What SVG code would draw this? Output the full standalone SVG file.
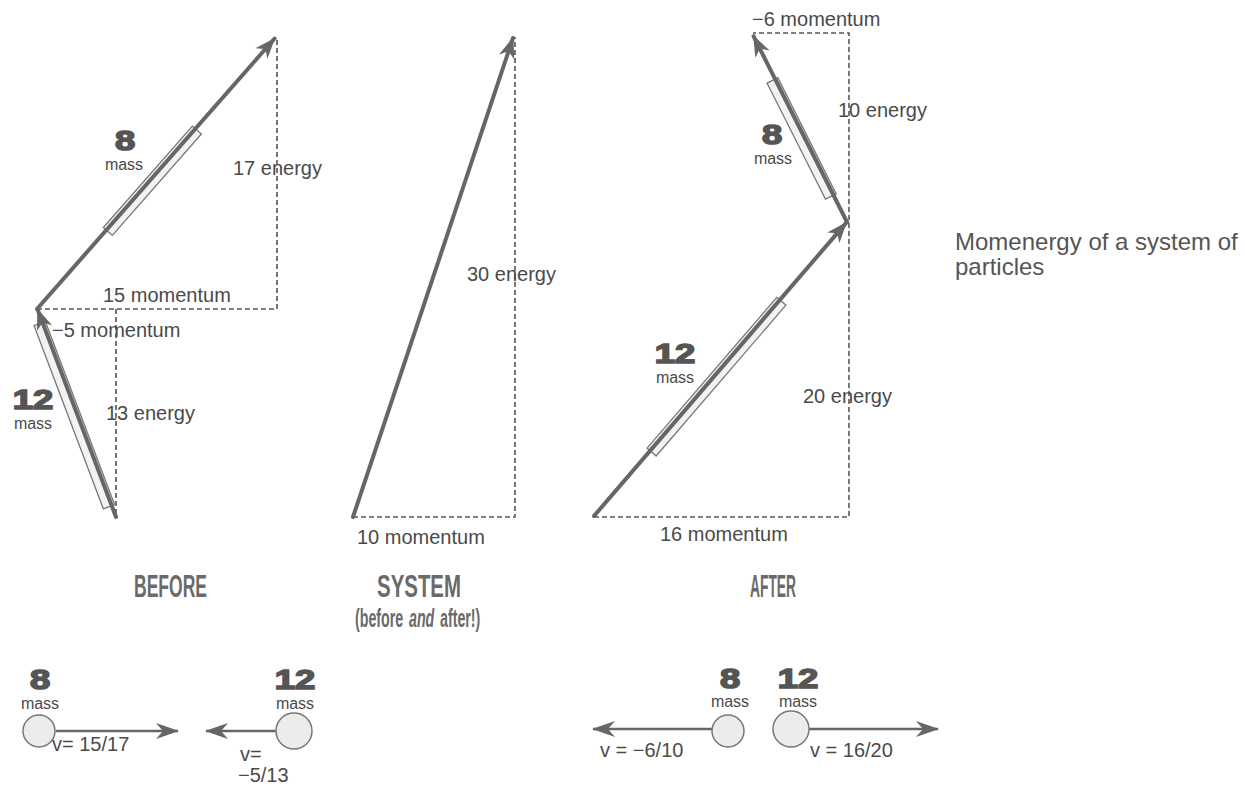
<svg xmlns="http://www.w3.org/2000/svg" width="1245" height="786" viewBox="0 0 1245 786">
<style>
.lbl{font-family:"Liberation Sans",Arial,sans-serif;font-size:20px;fill:#4a4a4a}
.num{font-family:"Liberation Sans",Arial,sans-serif;font-size:28px;font-weight:bold;fill:#555;stroke:#555;stroke-width:1.6;text-anchor:middle}
.mass{font-family:"Liberation Sans",Arial,sans-serif;font-size:16px;fill:#4a4a4a;text-anchor:middle}
.title{font-family:"Liberation Sans",Arial,sans-serif;font-size:32px;font-weight:bold;fill:#6a6a6a}
.sub{font-family:"Liberation Sans",Arial,sans-serif;font-size:25px;font-weight:bold;fill:#6a6a6a}
.cap{font-family:"Liberation Sans",Arial,sans-serif;font-size:24px;fill:#555}
.vec{stroke:#666;stroke-width:4;fill:none;stroke-linecap:round}
.small{stroke:#666;stroke-width:2.5;fill:none}
.dash{stroke:#555;stroke-width:1.6;fill:none;stroke-dasharray:5 3}
.bar{fill:#f2f2f2;stroke:#777;stroke-width:1.3}
.ball{fill:#ececec;stroke:#777;stroke-width:1.5}
</style>
<defs>
<marker id="head" viewBox="-22 -9 24 18" refX="0" refY="0" markerWidth="24" markerHeight="18" markerUnits="userSpaceOnUse" orient="auto">
<path d="M1,0 L-20,-8 L-14,0 L-20,8 Z" fill="#666"/>
</marker>
<marker id="headS" viewBox="-22 -9 24 18" refX="0" refY="0" markerWidth="24" markerHeight="18" markerUnits="userSpaceOnUse" orient="auto">
<path d="M1,0 L-22,-8 L-15,0 L-22,8 Z" fill="#666"/>
</marker>
</defs>

<g id="connectors">
<path class="dash" d="M37,309 H277 V37"/>
<path class="dash" d="M116,309 V517"/>
<path class="dash" d="M353,517 H515 V37"/>
<path class="dash" d="M594,517 H849 V33 H753"/>
</g>

<g id="before-12">
<g transform="translate(116,517) rotate(-110.7)">
<rect class="bar" x="12" y="-9" width="196" height="12"/>
<line class="vec" x1="0" y1="0" x2="222" y2="0" marker-end="url(#head)"/>
</g>
<text class="num" transform="translate(33,409) scale(1.3,1)">12</text>
<text class="mass" x="33" y="429">mass</text>
</g>

<g id="before-8">
<g transform="translate(37,309) rotate(-48.7)">
<rect class="bar" x="105" y="-4" width="135" height="12"/>
<line class="vec" x1="0" y1="0" x2="360" y2="0" marker-end="url(#head)"/>
</g>
<text class="num" transform="translate(125,150) scale(1.3,1)">8</text>
<text class="mass" x="124" y="170">mass</text>
</g>

<g id="before-labels">
<text class="lbl" x="233" y="175">17 energy</text>
<text class="lbl" x="103" y="302">15 momentum</text>
<text class="lbl" x="52" y="337">−5 momentum</text>
<text class="lbl" x="106" y="420">13 energy</text>
</g>

<g id="system">
<line class="vec" x1="353" y1="517" x2="513" y2="38" marker-end="url(#head)"/>
<text class="lbl" x="467" y="281">30 energy</text>
<text class="lbl" x="357" y="544">10 momentum</text>
</g>

<g id="after-12">
<g transform="translate(594,516) rotate(-49.3)">
<rect class="bar" x="86" y="-4" width="199" height="12"/>
<line class="vec" x1="0" y1="0" x2="387" y2="0" marker-end="url(#head)"/>
</g>
<text class="num" transform="translate(675,363) scale(1.3,1)">12</text>
<text class="mass" x="675" y="383">mass</text>
</g>

<g id="after-8">
<g transform="translate(847,222) rotate(-116.7)">
<rect class="bar" x="30" y="-9" width="130" height="12"/>
<line class="vec" x1="0" y1="0" x2="208" y2="0" marker-end="url(#head)"/>
</g>
<text class="num" transform="translate(772,144) scale(1.3,1)">8</text>
<text class="mass" x="773" y="164">mass</text>
</g>

<g id="after-labels">
<text class="lbl" x="752" y="26">−6 momentum</text>
<text class="lbl" x="838" y="117">10 energy</text>
<text class="lbl" x="803" y="403">20 energy</text>
<text class="lbl" x="660" y="541">16 momentum</text>
</g>

<g id="caption">
<text class="cap" x="955" y="250">Momenergy of a system of</text>
<text class="cap" x="955" y="275">particles</text>
</g>

<g id="titles">
<text class="title" x="134" y="597" textLength="73" lengthAdjust="spacingAndGlyphs">BEFORE</text>
<text class="title" x="377" y="597" textLength="84" lengthAdjust="spacingAndGlyphs">SYSTEM</text>
<text class="sub" transform="translate(355,627) scale(0.57,1)">(before</text>
<text class="sub" transform="translate(409,627) scale(0.57,1)" font-style="italic">and</text>
<text class="sub" transform="translate(440,627) scale(0.57,1)">after!)</text>
<text class="title" x="750" y="597" textLength="46" lengthAdjust="spacingAndGlyphs">AFTER</text>
</g>

<g id="before-particle-8">
<text class="num" transform="translate(40,689) scale(1.3,1)">8</text>
<text class="mass" x="40" y="709">mass</text>
<line class="small" x1="56" y1="731" x2="178" y2="731" marker-end="url(#headS)"/>
<circle class="ball" cx="39" cy="731" r="16"/>
<text class="lbl" x="52" y="751">v= 15/17</text>
</g>

<g id="before-particle-12">
<text class="num" transform="translate(295,689) scale(1.3,1)">12</text>
<text class="mass" x="295" y="709">mass</text>
<line class="small" x1="276" y1="731" x2="206" y2="731" marker-end="url(#headS)"/>
<circle class="ball" cx="294" cy="731" r="18"/>
<text class="lbl" x="240" y="761">v=</text>
<text class="lbl" x="238" y="782">−5/13</text>
</g>

<g id="after-particle-8">
<text class="num" transform="translate(730,688) scale(1.3,1)">8</text>
<text class="mass" x="730" y="707">mass</text>
<line class="small" x1="712" y1="729" x2="593" y2="729" marker-end="url(#headS)"/>
<circle class="ball" cx="728" cy="731" r="16"/>
<text class="lbl" x="600" y="757">v = −6/10</text>
</g>

<g id="after-particle-12">
<text class="num" transform="translate(798,688) scale(1.3,1)">12</text>
<text class="mass" x="798" y="707">mass</text>
<line class="small" x1="809" y1="729" x2="938" y2="729" marker-end="url(#headS)"/>
<circle class="ball" cx="791" cy="729" r="18"/>
<text class="lbl" x="810" y="757">v = 16/20</text>
</g>
</svg>
